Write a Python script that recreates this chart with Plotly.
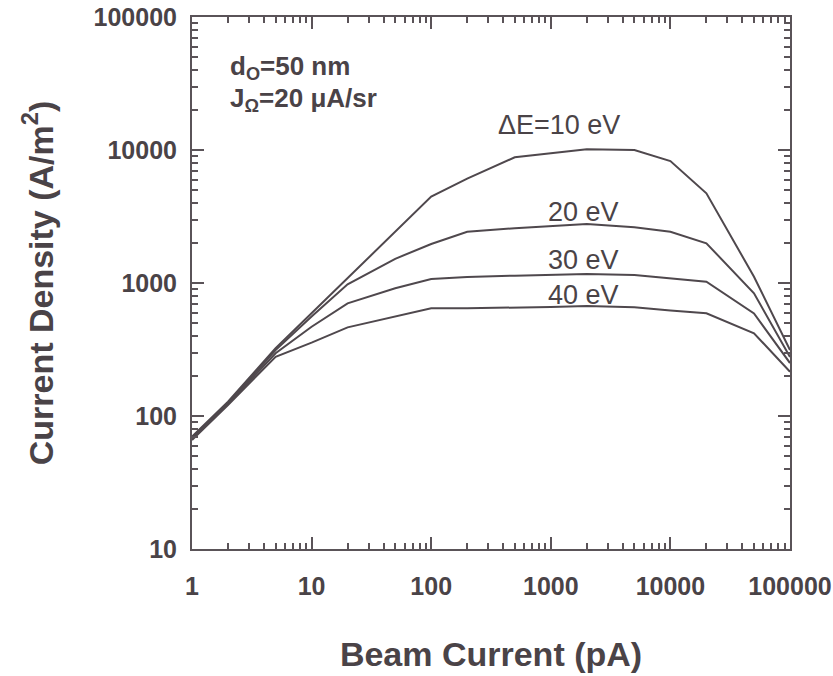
import plotly.graph_objects as go

beam_current = [1, 2, 5, 10, 20, 50, 100, 200, 500, 1000, 2000, 5000, 10000, 20000, 50000, 100000]
de10 = [70, 128, 323, 592, 1085, 2415, 4460, 6100, 8810, 9440, 10120, 10000, 8260, 4720, 1115, 313]
de20 = [69, 125, 313, 559, 977, 1520, 1965, 2430, 2580, 2690, 2780, 2620, 2430, 1990, 836, 278]
de30 = [68, 123, 296, 469, 703, 912, 1070, 1110, 1135, 1150, 1170, 1150, 1085, 1023, 591, 250]
de40 = [66, 121, 279, 356, 464, 559, 646, 646, 650, 660, 671, 656, 620, 592, 419, 215]
series = [("ΔE=10 eV", de10), ("20 eV", de20), ("30 eV", de30), ("40 eV", de40)]
label_pos = [(3.07, 4.19), (3.27, 3.534), (3.27, 3.173), (3.27, 2.91)]

line_col = "#4f484d"
axis_col = "#5a5358"
text_col = "#4a4347"
font_fam = "Liberation Sans, Arial, sans-serif"

fig = go.Figure()
for name, ys in series:
    fig.add_trace(go.Scatter(x=beam_current, y=ys, mode="lines", name=name,
                             line=dict(color=line_col, width=2), showlegend=False))

for (name, _), (lx, ly) in zip(series, label_pos):
    fig.add_annotation(x=lx, y=ly, xref="x", yref="y", text=name, showarrow=False,
                       font=dict(family=font_fam, size=27, color=text_col))

fig.add_annotation(x=0.06, y=0.905, xref="paper", yref="paper", xanchor="left",
                   yanchor="middle", showarrow=False,
                   text="<b>d<sub>O</sub>=50 nm</b>",
                   font=dict(family=font_fam, size=26, color=text_col))
fig.add_annotation(x=0.06, y=0.845, xref="paper", yref="paper", xanchor="left",
                   yanchor="middle", showarrow=False,
                   text="<b>J<sub>Ω</sub>=20 μA/sr</b>",
                   font=dict(family=font_fam, size=26, color=text_col))

axis_common = dict(type="log", showgrid=False, zeroline=False, showline=True,
                   linecolor=axis_col, linewidth=2, mirror="ticks", automargin=False,
                   ticks="inside", ticklen=12, tickwidth=1.5, tickcolor=axis_col,
                   minor=dict(ticks="inside", ticklen=6, tickwidth=1.5, tickcolor=axis_col,
                              dtick="D1", showgrid=False),
                   tickfont=dict(family=font_fam, size=25, color=text_col, weight="bold"),
                   title_font=dict(family=font_fam, size=34, color=text_col, weight="bold"))

fig.update_xaxes(range=[0, 5], tickvals=[1, 10, 100, 1000, 10000, 100000],
                 ticktext=["1", "10", "100", "1000", "10000", "100000"],
                 title_text="Beam Current (pA)", title_standoff=43,
                 ticklabelstandoff=14, **axis_common)
fig.update_yaxes(range=[1, 5], tickvals=[10, 100, 1000, 10000, 100000],
                 ticktext=["10", "100", "1000", "10000", "100000"],
                 title_text="Current Density (A/m<sup>2</sup>)", title_standoff=30,
                 ticklabelstandoff=8, **axis_common)

fig.update_layout(width=833, height=676, plot_bgcolor="white", paper_bgcolor="white",
                  margin=dict(l=192, r=43, t=17, b=127))

fig.write_html("out.html")
